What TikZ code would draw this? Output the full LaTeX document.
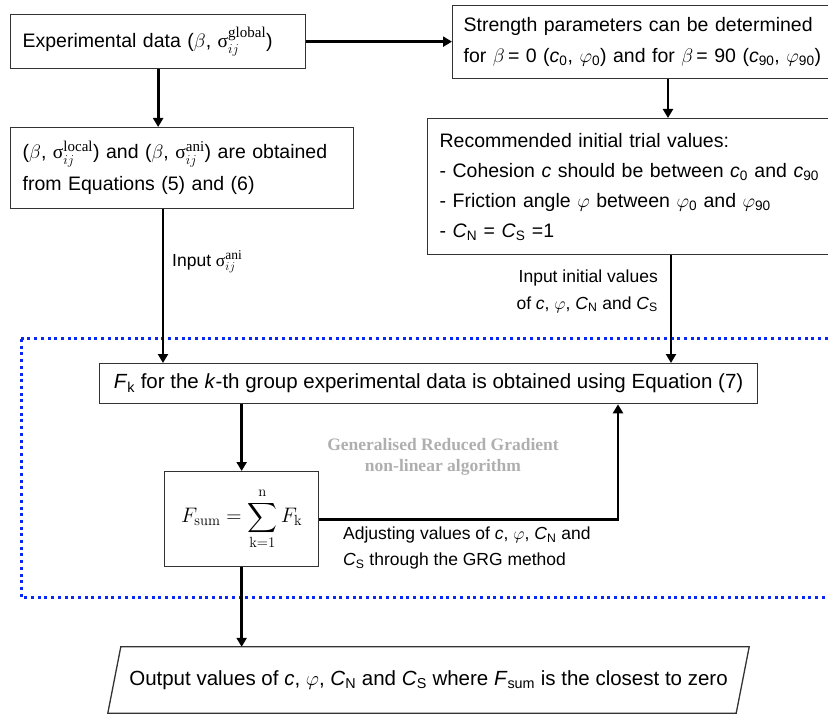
\RequirePackage{fix-cm}
\documentclass[tikz,border=0pt]{standalone}
\usepackage{amsmath}
\usepackage[no-math]{fontspec}
\setmainfont{Liberation Sans}
\newfontfamily\timesfont{Liberation Serif}
\usetikzlibrary{arrows.meta,calc}
\definecolor{dotblue}{RGB}{10,40,245}
\definecolor{grgray}{RGB}{175,175,175}
\newcommand{\usig}{\text{\timesfont σ}}
\newcommand{\sigsup}[2]{\usig_{ij}^{\text{\fontsize{#2}{#2}\selectfont\timesfont #1}}}
\tikzset{
  box/.style={draw=black!80, line width=1.3pt, rectangle, anchor=north west, inner ysep=0pt},
  txt/.style={font=\fontsize{19.5}{#1}\selectfont},
  arr/.style={line width=2.7pt, -{Triangle[width=10pt,length=9pt]}},
  lbl/.style={inner sep=0pt, font=\fontsize{17.5}{#1}\selectfont},
}
\begin{document}
\begin{tikzpicture}[x=1pt,y=-1pt]
\useasboundingbox (0,0) rectangle (828,714);
\clip (0,0) rectangle (828,714);

% boxes
\node[box, txt=24, minimum width=295pt, minimum height=54pt, inner xsep=12pt, text width=271pt, align=left] (b1) at (10,14)
  {Experimental data ($\beta$, $\sigsup{global}{15}$)};
\node[box, txt=32, minimum width=343pt, minimum height=81pt, inner xsep=12pt, text width=319pt, align=left] (b2) at (10,127)
  {($\beta$, $\sigsup{local}{15}$) and ($\beta$, $\sigsup{ani}{15}$) are obtained\\from Equations (5) and (6)};
\node[box, txt=31, minimum width=440pt, minimum height=73pt, inner xsep=11pt, text width=418pt, align=left] (b3) at (452,5)
  {Strength parameters can be determined\\for $\beta$\,= 0 (\textit{c}\textsubscript{0}, $\varphi$\textsubscript{0}) and for $\beta$\,= 90 (\textit{c}\textsubscript{90}, $\varphi$\textsubscript{90})};
\node[box, txt=30, minimum width=460pt, minimum height=136pt, inner xsep=12pt, text width=436pt, align=left] (b4) at (427,118)
  {Recommended initial trial values:\\- Cohesion \textit{c} should be between \textit{c}\textsubscript{0} and \textit{c}\textsubscript{90}\\- Friction angle $\varphi$ between $\varphi$\textsubscript{0} and $\varphi$\textsubscript{90}\\- \textit{C}\textsubscript{N} = \textit{C}\textsubscript{S} =1};
\node[box, font=\fontsize{20.5}{24}\selectfont, minimum width=658pt, minimum height=40pt, inner xsep=0pt, align=center] (fk) at (99,363)
  {\textit{F}\textsubscript{k} for the \textit{k}-th group experimental data is obtained using Equation (7)};
\node[box, font=\fontsize{21}{25}\selectfont, minimum width=154pt, minimum height=95pt, inner xsep=0pt, align=center] (fsum) at (164,471)
  {$\displaystyle F_{\mathrm{sum}}=\sum_{\mathrm{k}=1}^{\mathrm{n}}F_{\mathrm{k}}$};

% output parallelogram
\node[inner sep=0pt, minimum width=641pt, minimum height=66pt, font=\fontsize{20.5}{24}\selectfont] (out) at (428.5,680)
  {Output values of \textit{c}, $\varphi$, \textit{C}\textsubscript{N} and \textit{C}\textsubscript{S} where \textit{F}\textsubscript{sum} is the closest to zero};
\draw[draw=black!80, line width=1.3pt] ($(out.north west)+(13,0)$) -- (out.north east) -- ($(out.south east)+(-13,0)$) -- (out.south west) -- cycle;

% blue dotted region
\draw[dotblue, line width=3pt, dash pattern=on 3pt off 3.7pt] (21,339) rectangle (900,597);

% labels
\node[lbl=22, anchor=west] (lin) at (172,262) {Input $\sigsup{ani}{13.5}$};
\node[lbl=27, anchor=east, align=right] (linit) at (658,291)
  {Input initial values\\of \textit{c}, $\varphi$, \textit{C}\textsubscript{N} and \textit{C}\textsubscript{S}};
\node[lbl=26, anchor=west, align=left] (ladj) at (343,548)
  {Adjusting values of \textit{c}, $\varphi$, \textit{C}\textsubscript{N} and\\\textit{C}\textsubscript{S} through the GRG method};
\node[inner sep=0pt, font=\timesfont\bfseries\fontsize{17.5}{21}\selectfont, text=grgray, align=center] (grg) at (443,457)
  {Generalised Reduced Gradient\\non-linear algorithm};

% connectors
\coordinate (p2) at ([xshift=153pt]b2.south west);
\coordinate (p3) at ([xshift=216pt]b3.south west);
\coordinate (p4) at ([xshift=244pt]b4.south west);
\coordinate (pk) at ([xshift=519pt]fk.south west);
\draw[arr] (b1.south) -- (b1.south |- b2.north);
\draw[arr] (b1.east) -- (b1.east -| b3.west);
\draw[arr] (p3) -- (p3 |- b4.north);
\draw[arr] (p2) -- (p2 |- fk.north);
\draw[arr] (p4) -- (p4 |- fk.north);
\draw[arr] (fsum.north |- fk.south) -- (fsum.north);
\draw[arr] (fsum.east) -| (pk);
\draw[arr] (fsum.south) -- (fsum.south |- out.north);
\end{tikzpicture}
\end{document}
